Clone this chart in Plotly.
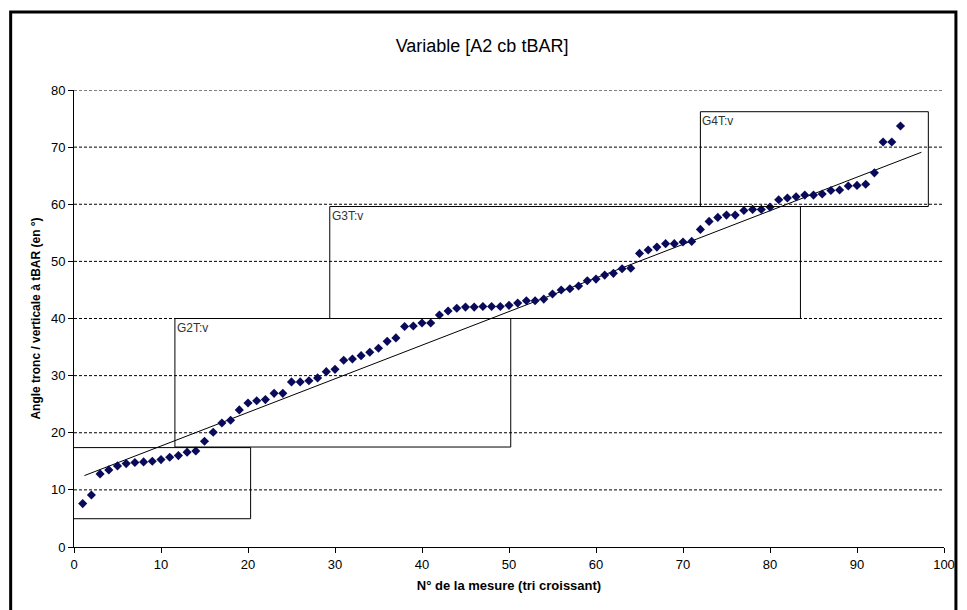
import plotly.graph_objects as go

# Sorted measurements (angle in degrees), x = measure number 1..95
angles = [
    7.6, 9.1, 12.8, 13.5, 14.2, 14.6, 14.8, 14.9, 15.0, 15.3,
    15.7, 16.0, 16.6, 16.8, 18.5, 20.1, 21.7, 22.2, 24.0, 25.2,
    25.6, 25.8, 26.9, 26.9, 28.9, 28.9, 29.1, 29.6, 30.7, 31.1,
    32.7, 32.9, 33.5, 34.1, 34.8, 36.0, 36.6, 38.6, 38.7, 39.2,
    39.2, 40.6, 41.3, 41.8, 42.0, 42.0, 42.1, 42.1, 42.1, 42.3,
    42.7, 43.1, 43.1, 43.4, 44.3, 45.0, 45.2, 45.7, 46.6, 46.9,
    47.6, 47.9, 48.7, 48.8, 51.4, 52.0, 52.5, 53.1, 53.1, 53.4,
    53.5, 55.6, 57.0, 57.7, 58.1, 58.1, 58.9, 59.1, 59.1, 59.5,
    60.8, 61.1, 61.3, 61.6, 61.6, 61.8, 62.4, 62.5, 63.2, 63.3,
    63.5, 65.5, 70.9, 70.9, 73.7,
]
measure_no = list(range(1, len(angles) + 1))

# trendline as drawn in the source chart (start / end)
trend_x = [1.2, 97.4]
trend_y = [12.5, 69.1]

# Group boxes
group_labels = ["G1T:v", "G2T:v", "G3T:v", "G4T:v"]
group_x0 = [-0.3, 11.6, 29.4, 72.0]
group_x1 = [20.3, 50.2, 83.5, 98.2]
group_y0 = [4.95, 17.5, 40.0, 59.6]
group_y1 = [17.4, 40.0, 59.6, 76.2]

x_ticks = list(range(0, 101, 10))
y_ticks = list(range(0, 81, 10))

FONT = "Arial, Liberation Sans, sans-serif"

fig = go.Figure()

fig.add_trace(go.Scatter(
    x=trend_x, y=trend_y, mode="lines",
    line=dict(color="black", width=1), hoverinfo="skip", showlegend=False,
))
fig.add_trace(go.Scatter(
    x=measure_no, y=angles, mode="markers",
    marker=dict(symbol="diamond", size=7, color="#0a0a5a"),
    showlegend=False,
))

# dashed horizontal gridlines
for yv in y_ticks[1:]:
    fig.add_shape(type="line", xref="paper", yref="y", x0=0, x1=1, y0=yv, y1=yv,
                  line=dict(color="black", width=1, dash="3px,2px"), layer="below")

# group rectangles + labels
for lab, a, b, c, d in zip(group_labels, group_x0, group_x1, group_y0, group_y1):
    fig.add_shape(type="rect", x0=a, x1=b, y0=c, y1=d,
                  line=dict(color="black", width=1), layer="above")
    fig.add_annotation(x=a, y=d, text=lab, showarrow=False, xanchor="left", yanchor="top",
                       xshift=0, yshift=0, font=dict(family=FONT, size=12, color="#333333"))

# outer chart frame
fig.add_shape(type="rect", xref="paper", yref="paper",
              x0=-0.0728, x1=1.0137, y0=-0.16, y1=1.1707,
              line=dict(color="black", width=3))

# page body adds 8px margin, so the figure is sized 959x602
fig.update_layout(
    width=959, height=602,
    margin=dict(l=66, r=14, t=82, b=63),
    paper_bgcolor="white", plot_bgcolor="white",
    font=dict(family=FONT, size=13, color="black"),
    # title is centred on the whole chart frame, not on the plot area
    title=dict(text="Variable [A2 cb tBAR]", x=0.469, xref="paper", xanchor="center",
               y=0.937, yanchor="middle",
               font=dict(family=FONT, size=18, color="black")),
)
fig.update_xaxes(
    range=[0, 100], tickvals=x_ticks, showgrid=False, zeroline=False,
    showline=True, linecolor="black", linewidth=1,
    ticks="outside", ticklen=5, tickcolor="black",
    title=dict(text="<b>N° de la mesure (tri croissant)</b>", standoff=10,
               font=dict(family=FONT, size=13)),
)
fig.update_yaxes(
    range=[0, 80], tickvals=y_ticks, showgrid=False, zeroline=False,
    showline=True, linecolor="black", linewidth=1,
    ticks="outside", ticklen=5, tickcolor="black",
    title=dict(text="<b>Angle tronc / verticale à tBAR (en °)</b>", standoff=7,
               font=dict(family=FONT, size=12)),
)

fig.write_html("out.html")
